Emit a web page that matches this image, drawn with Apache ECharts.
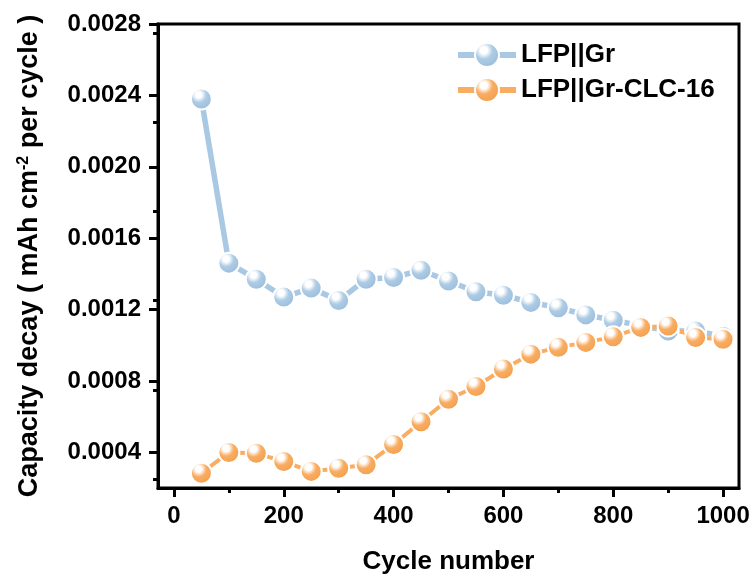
<!DOCTYPE html>
<html><head><meta charset="utf-8">
<script src="https://cdn.jsdelivr.net/npm/echarts@6/dist/echarts.min.js"></script>
<style>html,body{margin:0;padding:0;background:#fff}#c{width:753px;height:580px}</style>
</head><body><div id="c"></div>
<script>
const cycles = [50,100,150,200,250,300,350,400,450,500,550,600,650,700,750,800,850,900,950,1000];
const lfpGr = [0.00238,0.00146,0.00137,0.00127,0.00132,0.00125,0.00137,0.00138,0.00142,0.00136,0.00130,0.00128,0.00124,0.00121,0.00117,0.00114,0.00111,0.00108,0.00108,0.00105];
const lfpGrClc = [0.000283,0.000399,0.000395,0.000348,0.000293,0.000311,0.00033,0.000444,0.000571,0.000697,0.000769,0.000867,0.00095,0.000988,0.001016,0.001047,0.0011,0.001108,0.001043,0.001034];
const xMajor = [0,200,400,600,800,1000];
const yMajor = [0.0004,0.0008,0.0012,0.0016,0.0020,0.0024,0.0028];
const seriesNames = ['LFP||Gr','LFP||Gr-CLC-16'];

const FONT = "'Liberation Sans', Arial, sans-serif";
function sphere(base, edge){
  return {type:'radial', x:0.38, y:0.32, r:0.75, colorStops:[
    {offset:0, color:'#ffffff'},{offset:0.18, color:'#ffffff'},{offset:0.45, color:base},{offset:1, color:edge}]};
}
const chart = echarts.init(document.getElementById('c'));
const XMIN=-29, XMAX=1029, YMIN=0.0002, YMAX=0.0028;
const axLine = {show:true, onZero:false, lineStyle:{color:'#000', width:3}};
const minor = {show:true, splitNumber:2, length:5, lineStyle:{color:'#000', width:3}};
chart.setOption({
  animation:false,
  grid:{left:158, top:24, right:14, bottom:89, containLabel:false, show:true, borderColor:'#000', borderWidth:3, backgroundColor:'transparent'},
  legend:{
    orient:'vertical', left:450, top:35, itemWidth:58, itemHeight:30, itemGap:5,
    lineStyle:{width:6},
    textStyle:{fontFamily:FONT, fontWeight:'bold', fontSize:26, color:'#000', lineHeight:30},
    data:seriesNames
  },
  xAxis:{type:'value', position:'bottom', min:XMIN, max:XMAX, axisLine:axLine,
     axisTick:{show:true, inside:false, length:9, lineStyle:{color:'#000', width:3}, customValues:xMajor},
     minorTick:minor,
     axisLabel:{show:true, margin:16, fontFamily:FONT, fontWeight:'bold', fontSize:24, color:'#000', customValues:xMajor,
       formatter:v=>String(v)},
     splitLine:{show:false},
     name:'Cycle number', nameLocation:'middle', nameGap:61,
     nameTextStyle:{fontFamily:FONT, fontWeight:'bold', fontSize:26, color:'#000'}},
  yAxis:{type:'value', position:'left', min:YMIN, max:YMAX, axisLine:axLine,
     axisTick:{show:true, inside:false, length:9, lineStyle:{color:'#000', width:3}, customValues:yMajor},
     minorTick:minor,
     axisLabel:{show:true, margin:17, fontFamily:FONT, fontWeight:'bold', fontSize:24, color:'#000', customValues:yMajor,
       formatter:v=>Number(v).toFixed(4)},
     splitLine:{show:false},
     name:'{a|Capacity decay ( mAh cm}{s|-2}{a| per cycle )}', nameLocation:'middle', nameGap:114,
     nameTextStyle:{rich:{
       a:{fontFamily:FONT, fontWeight:'bold', fontSize:27, color:'#000'},
       s:{fontFamily:FONT, fontWeight:'bold', fontSize:16, color:'#000', padding:[0,0,12,0]}}}},
  series:[
    {name:seriesNames[0], type:'line',
     data:cycles.map((c,i)=>[c,lfpGr[i]]),
     symbol:'circle', symbolSize:21,
     lineStyle:{color:'#a9c8e3', width:5.5},
     itemStyle:{color:sphere('#adcbe4','#97badb'), opacity:1, borderColor:'#fff', borderWidth:2}},
    {name:seriesNames[1], type:'line',
     data:cycles.map((c,i)=>[c,lfpGrClc[i]]),
     symbol:'circle', symbolSize:21,
     lineStyle:{color:'#f8ad63', width:4},
     itemStyle:{color:sphere('#f8ad63','#f29c48'), opacity:1, borderColor:'#fff', borderWidth:2}}
  ]
});
</script></body></html>
